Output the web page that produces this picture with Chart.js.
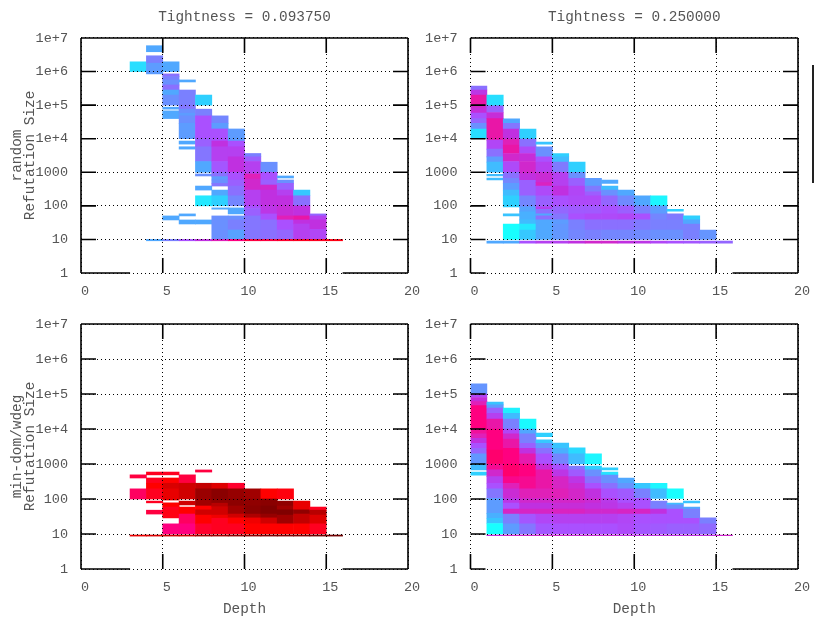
<!DOCTYPE html>
<html>
<head>
<meta charset="utf-8">
<title>Refutation size by depth</title>
<script src="https://cdn.jsdelivr.net/npm/chart.js@4"></script>
<style>
  body { margin: 0; background: #fff; width: 814px; height: 621px; overflow: hidden; }
  canvas { position: absolute; }
  #edge { position: absolute; left: 812px; top: 65px; width: 2px; height: 118px; background: #222; }
</style>
</head>
<body>
<canvas id="c1" width="422" height="310" style="left:0;top:0"></canvas>
<canvas id="c2" width="392" height="310" style="left:422px;top:0"></canvas>
<canvas id="c3" width="422" height="311" style="left:0;top:310px"></canvas>
<canvas id="c4" width="392" height="311" style="left:422px;top:310px"></canvas>
<div id="edge"></div>
<script>
const xTicks = [0, 5, 10, 15, 20];
const yTicks = [1, 10, 100, 1000, 1e4, 1e5, 1e6, 1e7];
const yTickLabels = ['1', '10', '100', '1000', '1e+4', '1e+5', '1e+6', '1e+7'];

// one row per depth: depth, then log10(size) edges going down with the shade
// level between them (null = empty)
const randomLow = [
  [3, 6.29,.7,6],
  [4, 6.77,2,6.59,null,6.47,3.5,6.25,2.5,5.93,null,1,2,.96],
  [5, 6.29,2,6,null,5.93,4,5.85,3.5,5.75,3,5.6,4,5.45,2,5.3,3,5,null,4.94,2,4.88,null,4.83,2,4.6,null,1.7,2,1.58,null,1,3.5,.96],
  [6, 5.75,2,5.69,null,5.45,3.5,5,3.8,4.88,3,4.76,2.5,4.68,3,4.46,2.5,4,null,3.93,2,3.84,null,3.76,2,3.69,null,1.76,2,1.7,null,1.58,2,1.46,null,1,5,.96],
  [7, 5.3,1,5,null,4.88,3.5,4.68,5,4,4.5,3.76,3.8,3.32,2,3,null,2.95,3,2.89,null,2.59,2,2.47,null,2.3,.5,2,null,1.58,2,1.46,null,1,6,.96],
  [8, 4.68,3.3,4.46,2.5,4.29,5,3.93,6,3.76,5.5,3.32,4.8,3,4,2.87,2.5,2.77,3,2.67,3.8,2.59,null,2.47,2,2.3,1,2,null,1.94,2,1.9,null,1.7,3,1,7,.96],
  [9, 4.29,2.5,3.93,5,3.76,5.5,3.46,6,3,5,2.77,4.5,2.59,4,2.3,3.3,2,null,1.94,2,1.76,null,1.7,3,1.58,3.5,1.28,2.3,1,8,.96],
  [10, 3.56,3.5,3.46,4.5,3.32,5.5,2.95,7,2.8,6.5,2.47,5.5,2,5,1.92,4.5,1.7,3.8,1,9,.96],
  [11, 3.3,3,3,5,2.77,4.5,2.62,6.5,2.47,6,2,5.8,1.76,5,1.58,4,1,9,.96],
  [12, 2.89,2,2.83,null,2.77,3,2.67,4.5,2.47,5.5,2.3,6,2,6.2,1.7,7,1.58,5,1.28,4.3,1,9.3,.96],
  [13, 2.47,1.2,2.3,4,2,6,1.7,7.3,1.58,6,1.46,5.5,1,9.5,.96],
  [14, 1.76,4.3,1.7,5.5,1.58,6,1.3,5.3,1,9.5,.96],
  [15, 1,9.7,.96]
];
const randomHigh = [
  [0, 5.57,4,5.45,5.8,5.3,7.3,5,6.5,4.91,6.2,4.76,5,4.6,4.3,4.46,3,4.29,.7,4],
  [1, 5.3,.7,4.98,4.5,4.78,6.2,4.6,7.3,3.96,5.3,3.69,4,3.46,2.5,3.3,1.5,3,null,2.94,1.5,2.89,null,2.83,1.5,2.77,null,.95,2,.89],
  [2, 4.59,2,4.46,3.8,4.29,6,3.99,7,3.81,7.3,3.56,6.5,3.32,5.2,3,4,2.82,3.3,2.67,2.5,2.47,1.5,2.3,1,1.97,null,1.76,1.3,1.7,null,1.46,0,1,null,.95,2,.89],
  [3, 4.29,1,3.99,4,3.76,5.2,3.56,6.2,3.32,6.5,2.96,6,2.76,4.5,2.3,3.3,1.97,2.2,1.82,1.8,1.58,1.5,1.46,.5,1.28,1.2,1,null,.95,5,.89],
  [4, 3.9,1.3,3.84,null,3.76,3,3.46,5,3.3,5.5,3,6.3,2.69,6.8,2.59,5.2,2.3,4.5,1.97,5.5,1.9,4,1.76,2,1.7,4,1.58,2,1,null,.95,5.5,.89],
  [5, 3.56,1,3.46,1.5,3.3,3.7,3,5.5,2.59,6,2.3,5,1.97,4.3,1.76,3.8,1.58,2.5,1.46,2.7,1,null,.95,5.5,.89],
  [6, 3.3,1,3,3,2.82,4.5,2.59,5.3,2.3,5.2,2,4.7,1.76,5,1.58,3.5,1.28,3.3,1,null,.95,6,.89],
  [7, 2.82,2.5,2.59,3.7,2.42,4.6,2.3,5.2,2,4.7,1.76,5.2,1.58,4,1.28,3.5,1,null,.95,6.5,.89],
  [8, 2.77,2,2.67,null,2.59,1.5,2.47,3,2.3,4.3,2,5,1.76,5.2,1.58,4,1.28,3.3,1,null,.95,6.5,.89],
  [9, 2.47,2,2.3,3.2,2,4.7,1.87,4.5,1.76,5.3,1.58,4,1.28,3.3,1,null,.95,6,.89],
  [10, 2.3,2,2,3.5,1.76,5,1.58,3.7,1.28,3.2,1,null,.95,5.8,.89],
  [11, 2.3,.2,2,2.5,1.76,3.3,1.58,3.5,1.28,3,1,null,.95,5.3,.89],
  [12, 1.9,1,1.84,null,1.76,3.7,1.58,3.5,1.28,3,1,null,.95,5,.89],
  [13, 1.7,1,1.58,2,1.46,3.5,1,null,.95,4.8,.89],
  [14, 1.28,2.8,1,null,.95,4.5,.89],
  [15, .95,4.3,.89]
];
const wdegLow = [
  [3, 2.69,9,2.6,null,2.29,8.5,2,null,.97,10.5,.94],
  [4, 2.77,9.5,2.69,null,2.6,9.5,2.45,10,2.29,9.5,2,null,1.94,9.5,1.89,null,1.68,9,1.57,null,.97,10.8,.94],
  [5, 2.77,9.5,2.69,null,2.6,10,2.45,10.8,2.29,10.5,1.97,null,1.89,10,1.77,9.5,1.68,9.7,1.46,null,1.29,8,1,null,.97,11,.94],
  [6, 2.69,9,2.45,11,2,null,1.94,11,1.83,null,1.77,10,1.57,8.5,1.29,8,1,null,.97,11,.94],
  [7, 2.83,9,2.77,null,2.45,11.3,2.29,12.2,2,12,1.8,10,1.69,11,1.54,10,1.29,9.3,1,null,.97,12,.94],
  [8, 2.45,10.7,2.29,12.7,2,12.5,1.88,11.5,1.78,11,1.54,10.3,1.45,9.5,1,null,.97,12,.94],
  [9, 2.45,9.3,2.29,12.3,2,12.6,1.8,12,1.57,11,1.46,10,1.29,9.5,1,null,.97,12.5,.94],
  [10, 2.29,12,2,12.5,1.8,12.7,1.57,11.7,1.46,10.3,1.29,10,1,null,.97,12.5,.94],
  [11, 2.29,10,2,12.7,1.8,13,1.57,12.3,1.46,11,1.29,10,1,null,.97,13,.94],
  [12, 2.29,9.8,2,null,1.94,12.5,1.8,12,1.69,13,1.54,12,1.29,10,1,null,.97,13,.94],
  [13, 1.94,10.5,1.69,12.5,1.57,11.3,1.29,10,1,null,.97,13,.94],
  [14, 1.77,9.5,1.68,11.5,1.54,10.7,1.29,9.5,1,null,.97,13.5,.94],
  [15, .97,13.5,.94]
];
const wdegHigh = [
  [0, 5.29,2.8,5,5.3,4.9,6.2,4.78,7,4.67,8,4,7.5,3.86,7,3.73,6,3.59,5,3.45,4.3,3.29,2.7,3,1.5,2.83,null,2.77,1,2.68],
  [1, 4.77,1.3,4.69,2.5,4.6,4.5,4.45,5.5,4.28,7.3,4,8,3.4,8.3,3,7.7,2.83,6.5,2.64,5.5,2.45,5,2.29,3.8,2.02,2.5,1.59,1.8,1.45,1.3,1.3,0,1,null,.97,6,.95],
  [2, 4.6,.3,4.45,1.5,4.28,3.5,4,5.3,3.86,6.5,3.71,7.3,3.45,8,3,8.3,2.64,7.8,2.45,7,2.29,6.3,2.02,5.8,1.88,5,1.71,6.7,1.57,3.5,1.29,2.5,1,null,.97,6.5,.95],
  [3, 4.28,.1,4,2,3.86,3.5,3.59,4.5,3.45,6,3.29,7.2,3,8,2.64,7.7,2.29,7,2.02,6.5,1.88,6,1.71,6.7,1.57,4.8,1.29,3.8,1,null,.97,6.5,.95],
  [4, 3.88,1,3.78,null,3.69,1.2,3.59,2.7,3.45,4,3.29,5,3,6.2,2.83,7.3,2.29,7,2.02,6.5,1.88,6,1.71,6.7,1.57,5.3,1.29,4.8,1,null,.97,6.5,.95],
  [5, 3.6,1.3,3.45,1.8,3.29,3.3,3,5,2.83,5.8,2.64,6.7,2.29,7,2.02,6.6,1.88,6.2,1.71,6.8,1.57,5.5,1.29,5,1,null,.97,6.5,.95],
  [6, 3.46,.8,3.29,1.5,3,null,2.94,3.7,2.83,4.7,2.64,5.8,2.45,6.3,2.29,6.6,1.88,6.2,1.71,6.8,1.57,5.5,1.29,5,1,null,.97,6.3,.95],
  [7, 3.29,.2,3,null,2.94,1,2.83,3,2.64,4,2.45,5,2.29,6,2.02,6.3,1.88,6,1.71,6.5,1.57,5.5,1.29,5,1,null,.97,6.3,.95],
  [8, 2.89,1,2.83,null,2.77,.6,2.68,3,2.45,4,2.29,5,2.02,5.7,1.88,5.8,1.71,6.5,1.57,5.5,1.29,5,1,null,.97,6.3,.95],
  [9, 2.6,2,2.45,2.8,2.29,4.7,2.02,5,1.88,5.5,1.71,6.7,1.57,5.3,1.29,5.2,1,null,.97,6,.95],
  [10, 2.45,1.2,2.29,3.5,2.02,5,1.71,6.7,1.57,5,1.29,4.8,1,null,.97,6,.95],
  [11, 2.45,.2,2.29,1.5,2.02,null,1.94,3.5,1.71,6,1.57,5,1.29,4.7,1,null,.97,6,.95],
  [12, 2.29,0,2.02,null,1.88,1.5,1.83,3,1.71,5,1.29,4.5,1,null,.97,6,.95],
  [13, 1.94,1.3,1.89,null,1.77,2,1.71,3.5,1.45,5,1.29,4.5,1,null,.97,6,.95],
  [14, 1.46,3.5,1.29,4.2,1,null,.97,6,.95],
  [15, .97,6.5,.95]
];

// shade levels 0..13, cyan through violet and red to dark red
const shades = [
  [24,255,255],[47,208,255],[80,168,255],[106,144,255],[138,112,255],[170,80,255],
  [192,48,224],[224,32,184],[255,0,128],[255,0,64],[255,0,0],[208,0,0],[160,0,0],[128,0,0]
];

function shadeColor(level) {
  const i = Math.min(Math.floor(level), shades.length - 2);
  const f = level - i;
  const c = shades[i].map((v, k) => Math.round(v + (shades[i + 1][k] - v) * f));
  return `rgb(${c[0]},${c[1]},${c[2]})`;
}

// expands the depth rows to floating bars
function toCells(rows) {
  const cells = [];
  rows.forEach(row => {
    for (let i = 1; i + 2 < row.length; i += 2) {
      if (row[i + 1] === null) continue;
      cells.push({ x: row[0] + 0.5, y: [Math.pow(10, row[i + 2]), Math.pow(10, row[i])], level: row[i + 1] });
    }
  });
  return cells;
}

// solid frame and the long tick marks
const framePlugin = {
  id: 'frame',
  afterDraw(chart, args, opts) {
    const { ctx, chartArea: a, scales: { x, y } } = chart;
    const tick = 15;
    ctx.save();
    ctx.strokeStyle = '#000';
    ctx.lineWidth = 1.6;
    ctx.beginPath();
    const seg = (x0, y0, x1, y1) => { ctx.moveTo(x0, y0); ctx.lineTo(x1, y1); };
    seg(a.left, a.top, a.right, a.top);
    seg(a.right, a.top, a.right, a.bottom);
    if (opts.solidLeft) seg(a.left, a.top, a.left, a.bottom);
    opts.solidBottom.forEach(r => seg(x.getPixelForValue(r[0]), a.bottom, x.getPixelForValue(r[1]), a.bottom));
    xTicks.forEach(v => {
      const px = x.getPixelForValue(v);
      seg(px, a.bottom, px, a.bottom - tick);
      seg(px, a.top, px, a.top + tick);
    });
    yTicks.forEach(v => {
      const py = y.getPixelForValue(v);
      seg(a.left, py, a.left + tick, py);
      seg(a.right, py, a.right - tick, py);
    });
    ctx.stroke();
    ctx.restore();
  }
};

const textColor = '#555';
const monoFont = 'Liberation Mono';

function drawPanel(id, rows, cfg) {
  const cells = toCells(rows);
  new Chart(document.getElementById(id).getContext('2d'), {
    type: 'bar',
    data: {
      datasets: [{
        data: cells,
        backgroundColor: cells.map(c => shadeColor(c.level)),
        borderWidth: 0,
        barPercentage: 1,
        categoryPercentage: 1
      }]
    },
    plugins: [framePlugin],
    options: {
      responsive: false,
      animation: false,
      layout: { padding: { top: cfg.top, right: cfg.right, left: 0, bottom: 0 } },
      plugins: {
        legend: { display: false },
        tooltip: { enabled: false },
        title: {
          display: !!cfg.title,
          text: cfg.title,
          fullSize: false,
          color: textColor,
          font: { family: monoFont, size: 14.4, weight: 'normal', lineHeight: 1.2 },
          padding: { top: 8.4, bottom: 12.3 }
        },
        frame: { solidLeft: cfg.solidLeft, solidBottom: cfg.solidBottom }
      },
      scales: {
        x: {
          type: 'linear',
          offset: false,
          min: 0,
          max: 20,
          afterBuildTicks: s => { s.ticks = xTicks.map(v => ({ value: v })); },
          afterFit: s => { s.height = cfg.xHeight; s.paddingLeft = 0; s.paddingRight = 0; },
          border: { display: false, dash: [1, 3] },
          grid: { color: '#000', lineWidth: 1, z: 1, offset: false, drawTicks: false },
          ticks: {
            color: textColor,
            font: { family: monoFont, size: 13.5 },
            padding: 10,
            labelOffset: 4,
            maxRotation: 0,
            autoSkip: false
          },
          title: {
            display: !!cfg.xTitle,
            text: cfg.xTitle,
            color: textColor,
            font: { family: monoFont, size: 14.4, lineHeight: 1 },
            padding: { top: 0, bottom: 5 }
          }
        },
        y: {
          type: 'logarithmic',
          min: 1,
          max: 1e7,
          afterBuildTicks: s => { s.ticks = yTicks.map(v => ({ value: v })); },
          afterFit: s => { s.width = cfg.yWidth; s.paddingTop = 0; s.paddingBottom = 0; },
          border: { display: false, dash: [1, 3] },
          grid: { color: '#000', lineWidth: 1, z: 1, drawTicks: false },
          ticks: {
            color: textColor,
            font: { family: monoFont, size: 13.5 },
            padding: 13,
            autoSkip: false,
            callback: v => yTickLabels[yTicks.indexOf(v)]
          },
          title: {
            display: !!cfg.yTitle,
            text: cfg.yTitle,
            color: textColor,
            font: { family: monoFont, size: 14.4, lineHeight: 0.9 },
            padding: { top: 10.5, bottom: 0 }
          }
        }
      }
    }
  });
}

drawPanel('c1', randomLow, {
  title: 'Tightness = 0.093750', top: 0, right: 14, yWidth: 81, xHeight: 37,
  yTitle: ['random', 'Refutation Size'], solidLeft: true, solidBottom: [[0, 3], [16, 20]]
});
drawPanel('c2', randomHigh, {
  title: 'Tightness = 0.250000', top: 0, right: 16, yWidth: 48.5, xHeight: 37,
  solidLeft: false, solidBottom: [[16, 20]]
});
drawPanel('c3', wdegLow, {
  top: 14, right: 14, yWidth: 81, xHeight: 52,
  yTitle: ['min-dom/wdeg', 'Refutation Size'], xTitle: 'Depth', solidLeft: true, solidBottom: [[0, 3], [16, 20]]
});
drawPanel('c4', wdegHigh, {
  top: 14, right: 16, yWidth: 48.5, xHeight: 52,
  xTitle: 'Depth', solidLeft: false, solidBottom: [[16, 20]]
});
</script>
</body>
</html>
